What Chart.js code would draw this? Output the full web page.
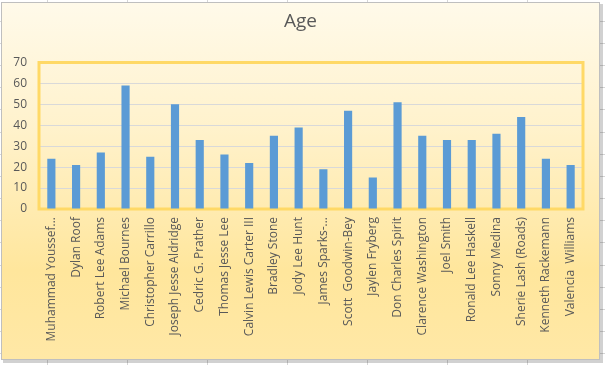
<!DOCTYPE html>
<html>
<head>
<meta charset="utf-8">
<script src="https://cdn.jsdelivr.net/npm/chart.js@4.4.1/dist/chart.umd.min.js"></script>
<style>
  html, body { margin: 0; padding: 0; background: #ffffff; }
  #wrap { position: absolute; left: 0; top: 0; width: 605px; height: 365px; }
</style>
</head>
<body>
<div id="wrap"><canvas id="c" width="605" height="365"></canvas></div>
<script>
const chartTitle = "Age";
const categories = [
  "Muhammad Youssef...", "Dylan Roof", "Robert Lee Adams", "Michael Bournes",
  "Christopher Carrillo", "Joseph Jesse Aldridge", "Cedric G. Prather", "Thomas Jesse Lee",
  "Calvin Lewis Carter III", "Bradley Stone", "Jody Lee Hunt", "James Sparks-...",
  "Scott  Goodwin-Bey", "Jaylen Fryberg", "Don Charles Spirit", "Clarence Washington",
  "Joel Smith", "Ronald Lee Haskell", "Sonny Medina", "Sherie Lash (Roads)",
  "Kenneth Rackemann", "Valencia  Williams"
];
const ages = [24, 21, 27, 59, 25, 50, 33, 26, 22, 35, 39, 19, 47, 15, 51, 35, 33, 33, 36, 44, 24, 21];
const yTicks = [0, 10, 20, 30, 40, 50, 60, 70];

const FONT = "'Open Sans', 'DejaVu Sans', sans-serif";
const TEXT = "#595959";

const backdrop = {
  id: "backdrop",
  beforeDraw(chart) {
    const ctx = chart.ctx;
    const W = chart.width, H = chart.height;
    ctx.save();
    ctx.fillStyle = "#ffffff";
    ctx.fillRect(0, 0, W, H);
    // spreadsheet cell lines
    ctx.strokeStyle = "#d6d6d6";
    ctx.lineWidth = 1;
    for (let x = 47.5; x < W; x += 80) {
      ctx.beginPath(); ctx.moveTo(x, 0); ctx.lineTo(x, H); ctx.stroke();
    }
    for (let y = 20.5; y < H; y += 22.2) {
      const yy = Math.round(y) + 0.5;
      ctx.beginPath(); ctx.moveTo(0, yy); ctx.lineTo(W, yy); ctx.stroke();
    }
    // chart box shadow
    ctx.fillStyle = "rgba(0,0,0,0.18)";
    ctx.fillRect(3, 4, 600, 359);
    // chart box with gradient
    const bx = 1, by = 2, bw = 599, bh = 358;
    const g = ctx.createLinearGradient(0, by, 0, by + bh);
    g.addColorStop(0, "#fffaea");
    g.addColorStop(0.35, "#fff2cc");
    g.addColorStop(0.75, "#ffe69c");
    g.addColorStop(1, "#ffe8a6");
    ctx.fillStyle = g;
    ctx.fillRect(bx, by, bw, bh);
    ctx.strokeStyle = "#bfbfbf";
    ctx.strokeRect(bx + 0.5, by + 0.5, bw - 1, bh - 1);
    // title
    ctx.fillStyle = TEXT;
    ctx.font = "19px " + FONT;
    ctx.textAlign = "center";
    ctx.textBaseline = "alphabetic";
    ctx.fillText(chartTitle, 300.5, 26.5);
    ctx.restore();
  },
  beforeDatasetsDraw(chart) {
    const ctx = chart.ctx;
    const a = chart.chartArea;
    ctx.save();
    ctx.strokeStyle = "#ffd966";
    ctx.lineWidth = 3;
    ctx.strokeRect(a.left, a.top, a.right - a.left, a.bottom - a.top);
    ctx.restore();
  }
};

new Chart(document.getElementById("c"), {
  type: "bar",
  data: {
    labels: categories,
    datasets: [{
      label: chartTitle,
      data: ages,
      backgroundColor: "#5b9bd5",
      borderWidth: 0,
      categoryPercentage: 1,
      barPercentage: 0.33
    }]
  },
  options: {
    responsive: false,
    animation: false,
    devicePixelRatio: 1,
    layout: { padding: { left: 2, right: 22, top: 62.5, bottom: 0 } },
    plugins: {
      legend: { display: false },
      title: { display: false },
      tooltip: { enabled: false }
    },
    scales: {
      y: {
        min: 0, max: 70,
        afterBuildTicks(scale) { scale.ticks = yTicks.map(v => ({ value: v })); },
        afterFit(scale) { scale.width = 37; },
        border: { display: false },
        grid: { color: "#d9d9d9", lineWidth: 1, drawTicks: false },
        ticks: { color: TEXT, font: { family: FONT, size: 12 }, padding: 12 }
      },
      x: {
        afterFit(scale) { scale.height = 156; },
        border: { display: false },
        grid: { display: false, drawTicks: false },
        ticks: {
          color: TEXT, font: { family: FONT, size: 12 },
          autoSkip: false, maxRotation: 90, minRotation: 90, padding: 8
        }
      }
    }
  },
  plugins: [backdrop]
});
</script>
</body>
</html>
